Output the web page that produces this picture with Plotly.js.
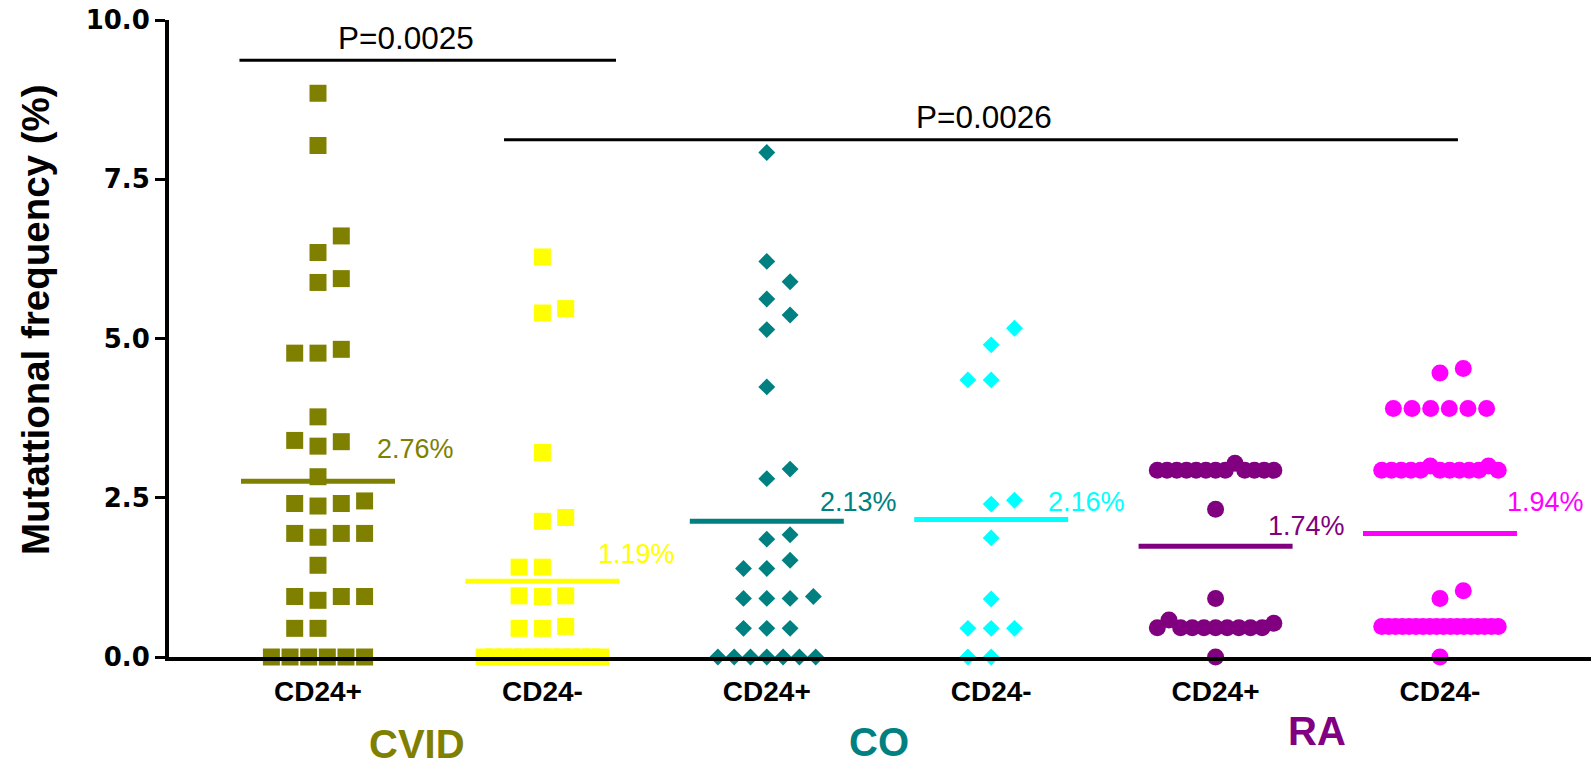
<!DOCTYPE html>
<html>
<head>
<meta charset="utf-8">
<script src="https://cdn.plot.ly/plotly-3.0.1.min.js"></script>
<style>
  html, body { margin: 0; padding: 0; background: #ffffff; }
  #chart { width: 1591px; height: 765px; }
</style>
</head>
<body>
<div id="chart"></div>
<script>
// Column labels along the x axis and the disease groups beneath them
const categories = ['CD24+', 'CD24-', 'CD24+', 'CD24-', 'CD24+', 'CD24-'];
const diseases = ['CVID', 'CO', 'RA'];

// Mutational frequency (%) of each sequence, one array per column
const cvidPos = [8.85, 8.03, 6.61, 6.35, 5.94, 5.88, 4.83, 4.77, 4.77, 3.77, 3.40, 3.38, 3.31,
  2.83, 2.45, 2.41, 2.41, 2.37, 1.94, 1.94, 1.94, 1.88, 1.44, 0.95, 0.95, 0.95, 0.89,
  0.45, 0.45, 0, 0, 0, 0, 0, 0];
const cvidNeg = [6.28, 5.47, 5.40, 3.21, 2.19, 2.13, 1.41, 1.41, 0.96, 0.96, 0.95, 0.48, 0.45, 0.45,
  0, 0, 0, 0, 0, 0, 0, 0, 0, 0, 0, 0, 0];
const coPos = [7.92, 6.21, 5.89, 5.62, 5.37, 5.14, 4.24, 2.95, 2.80, 1.92, 1.85, 1.52, 1.39, 1.39,
  0.95, 0.92, 0.92, 0.92, 0.45, 0.45, 0.45, 0, 0, 0, 0, 0, 0, 0];
const coNeg = [5.16, 4.90, 4.35, 4.35, 2.46, 2.40, 1.87, 0.91, 0.45, 0.45, 0.45, 0, 0];
const raPos = [2.93, 2.93, 2.93, 2.93, 2.93, 2.93, 2.93, 2.93, 3.04, 2.93, 2.93, 2.93, 2.93,
  2.32, 0.92,
  0.46, 0.58, 0.46, 0.46, 0.46, 0.46, 0.46, 0.46, 0.46, 0.46, 0.53,
  0];
const raNeg = [4.53, 4.46, 3.90, 3.90, 3.90, 3.90, 3.90, 3.90,
  2.93, 2.93, 2.93, 2.93, 2.93, 3.00, 2.93, 2.93, 2.93, 2.93, 2.93, 3.00, 2.93,
  1.04, 0.92,
  0.48, 0.48, 0.48, 0.48, 0.48, 0.48, 0.48, 0.48, 0.48, 0.48, 0.48, 0.48, 0.48, 0.48, 0.48, 0.48, 0.48, 0.48,
  0];

// Column means (%)
const means = [2.76, 1.19, 2.13, 2.16, 1.74, 1.94];

// Labels of the two pairwise comparisons
const compLabels = ['P=0.0025', 'P=0.0026'];

// ---------- styling / layout ----------
const W = 1591, H = 765;
const M = { l: 169, r: 0, t: 20, b: 108 };
const plotW = W - M.l - M.r, plotH = H - M.t - M.b;
const xRange = [-0.664, 5.673];
const yRange = [0, 10];
const pxPerX = plotW / (xRange[1] - xRange[0]);
const pxPerY = plotH / (yRange[1] - yRange[0]);

const colors = ['#808000', '#ffff00', '#008080', '#00ffff', '#800080', '#ff00ff'];
const symbols = ['square', 'square', 'diamond', 'diamond', 'circle', 'circle'];
const msize = [17, 17, 13, 13, 17, 17];
const groupColors = ['#808000', '#008080', '#800080'];

const SLOT_PX = 23.3;      // horizontal step between neighbouring dots
const HIT_PX = 18;         // vertical distance under which two dots collide
const ROW_TOL = 0.2;       // values closer than this form one row

// Scatter-dot-plot layout: rows of similar values are spread sideways.
// A dot that sits higher than the one it would overlap steps right first,
// an equal one steps left first.
function swarm(values, center) {
  const pts = values.map((v, i) => ({ v, i }));
  pts.sort((a, b) => a.v - b.v || a.i - b.i);
  const rows = [];
  pts.forEach(p => {
    const row = rows[rows.length - 1];
    if (row && p.v - row[0].v < ROW_TOL) row.push(p); else rows.push([p]);
  });
  const placed = [];
  const hits = (dx, v) => placed.find(q => Math.abs(q.dx - dx) < 1 &&
    Math.abs(q.v - v) * pxPerY < HIT_PX);
  rows.forEach(row => {
    const n = row.length;
    if (n > 5) {
      const span = Math.min(5, 4 + 0.2 * (n - 6)) * SLOT_PX;
      const ordered = row.slice().sort((a, b) => a.i - b.i);
      ordered.forEach((p, k) => {
        p.dx = -span / 2 + span * k / (n - 1);
        placed.push(p);
      });
    } else {
      row.forEach(p => {
        const blocker = hits(0, p.v);
        if (!blocker) { p.dx = 0; placed.push(p); return; }
        const side = p.v > blocker.v + 1e-9 ? 1 : -1;
        for (let k = 1; k <= 5; k++) {
          let done = false;
          for (const s of [side * k, -side * k]) {
            if (!hits(s * SLOT_PX, p.v)) { p.dx = s * SLOT_PX; done = true; break; }
          }
          if (done) break;
        }
        placed.push(p);
      });
    }
  });
  return {
    x: placed.map(p => center + p.dx / pxPerX),
    y: placed.map(p => p.v)
  };
}

const series = [cvidPos, cvidNeg, coPos, coNeg, raPos, raNeg];
const traces = [];

series.forEach((vals, k) => {
  const s = swarm(vals, k);
  traces.push({
    type: 'scatter', mode: 'markers',
    x: s.x, y: s.y,
    marker: { symbol: symbols[k], size: msize[k], color: colors[k], line: { width: 0 } },
    cliponaxis: false, hoverinfo: 'skip', showlegend: false
  });
});

// Mean bars
const MEAN_HALF = 77 / pxPerX;
means.forEach((m, k) => {
  traces.push({
    type: 'scatter', mode: 'lines',
    x: [k - MEAN_HALF, k + MEAN_HALF], y: [m, m],
    line: { color: colors[k], width: 5 },
    cliponaxis: false, hoverinfo: 'skip', showlegend: false
  });
});

// Positions of the value captions and comparison brackets
const meanLabelDx = [0.254, 0.24, 0.227, 0.245, 0.223, 0.29];
const meanLabelY = [3.27, 1.61, 2.44, 2.44, 2.05, 2.44];
const compX = [[-0.35, 1.328], [0.829, 5.08]];
const compY = [9.37, 8.12];
const compTextX = [0.392, 2.968];
const compTextY = [9.71, 8.48];
const groupX = [0.44, 2.5, 4.45];
const groupPy = [744, 742, 731];

const toPaperY = py => (H - M.b - py) / plotH;

const annotations = [];
means.forEach((m, k) => {
  annotations.push({
    x: k + meanLabelDx[k], y: meanLabelY[k], xref: 'x', yref: 'y',
    text: m.toFixed(2) + '%', showarrow: false,
    xanchor: 'left', yanchor: 'middle',
    font: { family: 'Liberation Sans, Arial, sans-serif', size: 27, color: colors[k] }
  });
});
compLabels.forEach((t, k) => {
  annotations.push({
    x: compTextX[k], y: compTextY[k], xref: 'x', yref: 'y',
    text: t, showarrow: false, xanchor: 'center', yanchor: 'middle',
    font: { family: 'Liberation Sans, Arial, sans-serif', size: 31.5, color: '#000000' }
  });
});
diseases.forEach((d, k) => {
  annotations.push({
    x: groupX[k], y: toPaperY(groupPy[k]), xref: 'x', yref: 'paper',
    text: '<b>' + d + '</b>', showarrow: false, xanchor: 'center', yanchor: 'middle',
    font: { family: 'Liberation Sans, Arial, sans-serif', size: 40, color: groupColors[k] }
  });
});
// y-axis caption
annotations.push({
  x: (35 - M.l) / plotW, y: toPaperY(320), xref: 'paper', yref: 'paper',
  text: '<b>Mutattional frequency (%)</b>', textangle: -90, showarrow: false,
  xanchor: 'center', yanchor: 'middle',
  font: { family: 'Liberation Sans, Arial, sans-serif', size: 38.5, color: '#000000' }
});

const shapes = compX.map((xs, k) => ({
  type: 'line', xref: 'x', yref: 'y',
  x0: xs[0], x1: xs[1], y0: compY[k], y1: compY[k],
  line: { color: '#000000', width: 3 }
}));

const layout = {
  width: W, height: H,
  margin: M,
  paper_bgcolor: '#ffffff', plot_bgcolor: '#ffffff',
  showlegend: false,
  xaxis: {
    range: xRange, tickmode: 'array',
    tickvals: categories.map((c, i) => i), ticktext: categories,
    showgrid: false, zeroline: false,
    showline: true, linecolor: '#000000', linewidth: 4,
    ticks: '', ticklabelstandoff: 6,
    tickfont: { family: 'Liberation Sans Narrow, Arial Narrow, Liberation Sans, Arial, sans-serif', size: 28, color: '#000000', weight: 'bold' },
    fixedrange: true
  },
  yaxis: {
    range: yRange, tickmode: 'array',
    tickvals: [0, 2.5, 5, 7.5, 10],
    ticktext: ['0.0', '2.5', '5.0', '7.5', '10.0'],
    showgrid: false, zeroline: false,
    showline: true, linecolor: '#000000', linewidth: 4,
    ticks: 'outside', ticklen: 10, tickwidth: 3, tickcolor: '#000000',
    tickfont: { family: 'DejaVu Sans, sans-serif', size: 26, color: '#000000', weight: 'bold' },
    fixedrange: true
  },
  shapes: shapes,
  annotations: annotations
};

Plotly.newPlot('chart', traces, layout, { displayModeBar: false, staticPlot: true });
</script>
</body>
</html>
